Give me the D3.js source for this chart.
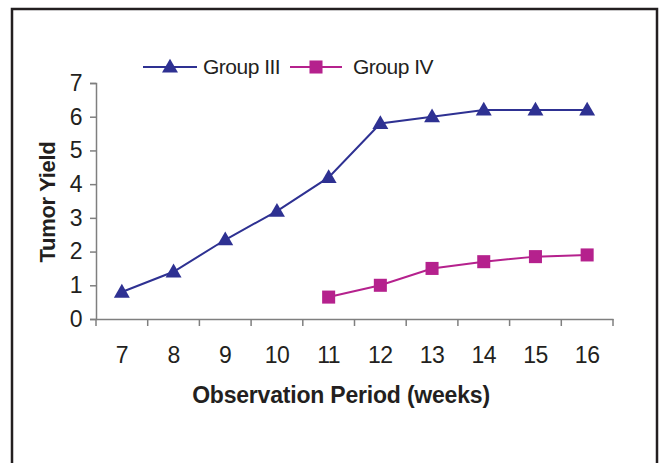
<!DOCTYPE html>
<html>
<head>
<meta charset="utf-8">
<script src="https://cdn.jsdelivr.net/npm/d3@7"></script>
<style>
  body { margin: 0; background: #fff; }
  text { font-family: "Liberation Sans", Arial, sans-serif; fill: #231f20; }
</style>
</head>
<body>
<div id="chart"></div>
<script>
const weeks = [7, 8, 9, 10, 11, 12, 13, 14, 15, 16]
const groupIII = [0.8, 1.4, 2.35, 3.2, 4.2, 5.8, 6.0, 6.2, 6.2, 6.2]
const groupIV = [null, null, null, null, 0.65, 1.0, 1.5, 1.7, 1.85, 1.9]
const yTicks = [0, 1, 2, 3, 4, 5, 6, 7]

const width = 664
const height = 463
const plot = { left: 96, right: 613, top: 83, bottom: 319 }

const svg = d3.select('#chart').append('svg')
  .attr('width', width)
  .attr('height', height)

// outer frame (bottom edge falls off the picture)
svg.append('rect')
  .attr('x', 12).attr('y', 9)
  .attr('width', 645).attr('height', 470)
  .attr('fill', 'none')
  .attr('stroke', '#231f20')
  .attr('stroke-width', 2.5)

const x = d3.scaleBand()
  .domain(weeks)
  .range([plot.left, plot.right])

const y = d3.scaleLinear()
  .domain([0, 7])
  .range([plot.bottom, plot.top])

const axisColor = '#7f7f7f'
const tickFont = sel => sel
  .attr('font-size', 23)
  .attr('fill', '#231f20')
  .attr('letter-spacing', -0.5)
  .style('font-family', '"Liberation Sans", Arial, sans-serif')

// y axis
const yAxis = svg.append('g')
  .attr('transform', `translate(${plot.left},0)`)
  .call(d3.axisLeft(y).tickValues(yTicks).tickFormat(d3.format('d')).tickSize(6).tickPadding(8))
yAxis.select('.domain').attr('stroke', axisColor).attr('stroke-width', 1.5)
yAxis.selectAll('.tick line').attr('stroke', axisColor).attr('stroke-width', 1.5)
yAxis.selectAll('.tick text').call(tickFont)

// x axis: labels centred in bands, tick marks at band edges
const xAxis = svg.append('g')
  .attr('transform', `translate(0,${plot.bottom})`)
  .call(d3.axisBottom(x).tickSize(0).tickPadding(28))
xAxis.select('.domain').attr('stroke', axisColor).attr('stroke-width', 1.5)
xAxis.selectAll('.tick text').call(tickFont)

const edges = weeks.map(w => x(w)).concat([plot.right])
xAxis.selectAll('.edge')
  .data(edges).enter()
  .append('line')
  .attr('x1', d => d).attr('x2', d => d)
  .attr('y1', 0).attr('y2', 7)
  .attr('stroke', axisColor)
  .attr('stroke-width', 1.5)

// axis titles
svg.append('text')
  .attr('transform', `translate(55,202) rotate(-90)`)
  .attr('text-anchor', 'middle')
  .attr('font-size', 22)
  .attr('font-weight', 'bold')
  .attr('letter-spacing', -0.3)
  .text('Tumor Yield')

svg.append('text')
  .attr('x', 341).attr('y', 403)
  .attr('text-anchor', 'middle')
  .attr('font-size', 23)
  .attr('font-weight', 'bold')
  .attr('letter-spacing', -0.2)
  .text('Observation Period (weeks)')

const cx = w => x(w) + x.bandwidth() / 2

const series = [
  { name: 'Group III', values: groupIII, color: '#2e3192', marker: 'triangle' },
  { name: 'Group IV', values: groupIV, color: '#b5218d', marker: 'square' }
]

const symbolFor = m => m === 'triangle'
  ? d3.symbol().type(d3.symbolTriangle).size(110)
  : d3.symbol().type(d3.symbolSquare).size(170)

series.forEach(s => {
  const pts = weeks.map((w, i) => ({ w, v: s.values[i] })).filter(d => d.v != null)

  const line = d3.line()
    .x(d => cx(d.w))
    .y(d => y(d.v))

  svg.append('path')
    .datum(pts)
    .attr('d', line)
    .attr('fill', 'none')
    .attr('stroke', s.color)
    .attr('stroke-width', 2)

  svg.selectAll(null)
    .data(pts).enter()
    .append('path')
    .attr('d', symbolFor(s.marker))
    .attr('transform', d => `translate(${cx(d.w)},${y(d.v) + (s.marker === 'triangle' ? 1 : 0)})`)
    .attr('fill', s.color)
})

// legend
const legendItems = [
  { x1: 143, x2: 197, tx: 203 },
  { x1: 290, x2: 342, tx: 353 }
]
series.forEach((s, i) => {
  const L = legendItems[i]
  const g = svg.append('g')
  g.append('line')
    .attr('x1', L.x1).attr('x2', L.x2)
    .attr('y1', 67).attr('y2', 67)
    .attr('stroke', s.color)
    .attr('stroke-width', 2)
  g.append('path')
    .attr('d', symbolFor(s.marker))
    .attr('transform', `translate(${(L.x1 + L.x2) / 2},${67 + (s.marker === 'triangle' ? 1 : 0)})`)
    .attr('fill', s.color)
  g.append('text')
    .attr('x', L.tx).attr('y', 74)
    .attr('font-size', 21)
    .attr('letter-spacing', -0.5)
    .text(s.name)
})
</script>
</body>
</html>
